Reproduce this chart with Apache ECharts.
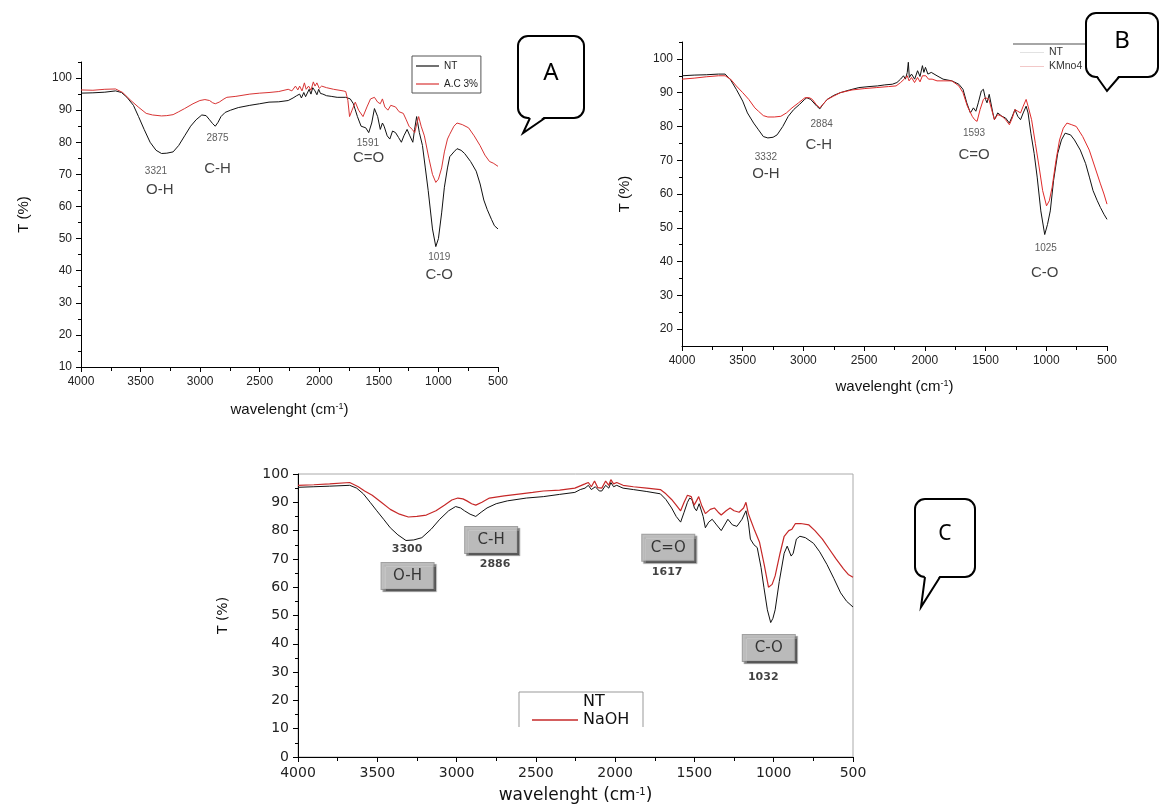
<!DOCTYPE html>
<html>
<head>
<meta charset="utf-8">
<script src="https://cdn.jsdelivr.net/npm/echarts@6/dist/echarts.min.js"></script>
<style>
  html, body { margin: 0; padding: 0; background: #fff; }
  #main { width: 1160px; height: 805px; }
</style>
</head>
<body>
<div id="main"></div>
<script>
// spectra, [wavenumber, T%]
const aNT = [[4000,95.3],[3900,95.4],[3800,95.6],[3710,96],[3660,95.5],[3614,94],[3560,91.5],[3517,88],[3470,84],[3420,80],[3370,77.5],[3324,76.5],[3280,76.6],[3227,77],[3180,79],[3130,82],[3080,85],[3034,87],[2986,88.5],[2950,88.3],[2921,87],[2895,85.8],[2873,85],[2850,86.2],[2825,88],[2790,89.3],[2744,90],[2680,90.8],[2583,91.5],[2500,92],[2422,92.5],[2340,92.6],[2261,93],[2220,93.8],[2190,94.5],[2165,95],[2150,93.8],[2130,95.5],[2115,94.2],[2100,94],[2085,96.5],[2070,95],[2055,97],[2036,96],[2020,94.8],[2005,96.5],[1990,95.2],[1970,95],[1939,94.5],[1900,94.3],[1850,94],[1778,94],[1740,93.5],[1714,92],[1680,88],[1649,85],[1610,84.5],[1585,83],[1560,86],[1537,90.5],[1510,88],[1488,84],[1470,86],[1456,85],[1430,82],[1408,81],[1385,83.5],[1360,83],[1335,81.5],[1311,80],[1290,82],[1263,84],[1240,82],[1215,80],[1200,84],[1183,88],[1160,83],[1134,79],[1110,72],[1086,65],[1050,53],[1022,47.5],[1000,50],[973,58],[950,66],[924,72],[905,75.5],[893,75],[870,77],[844,78],[810,77.5],[780,76.5],[730,74],[683,71],[650,67],[619,62],[590,59],[555,56],[530,54],[500,53]];
const aAC = [[4000,96.3],[3900,96.2],[3800,96.5],[3710,96.6],[3650,95.5],[3581,93],[3520,91],[3453,89],[3400,88.5],[3324,88.2],[3280,88.3],[3227,88.6],[3180,89.5],[3130,90.5],[3060,92],[3002,93],[2960,93.3],[2921,93],[2895,92.3],[2873,92],[2840,92.5],[2800,93.5],[2776,94],[2700,94.3],[2583,95],[2500,95.3],[2422,95.5],[2340,95.8],[2261,96.5],[2230,96],[2200,97.5],[2180,96.3],[2165,97.5],[2145,96],[2125,98.5],[2110,96.5],[2090,97.5],[2070,96.2],[2050,98.8],[2036,97.5],[2020,98.5],[2000,96.8],[1980,97.5],[1939,97],[1880,96.5],[1800,96],[1778,95.8],[1760,93],[1746,88],[1725,90],[1698,92.5],[1670,90],[1633,88],[1600,91],[1570,93.5],[1537,94],[1510,92.5],[1488,92],[1470,93.5],[1450,91],[1424,90],[1400,91.5],[1360,91],[1330,89.5],[1295,89],[1270,87],[1247,85],[1220,84],[1199,83],[1180,86],[1166,88],[1145,85],[1118,82],[1080,75],[1050,70],[1022,67.5],[1000,68.5],[973,72],[950,77],[924,81],[905,82.5],[893,83],[870,85],[844,86],[800,85.5],[747,84.5],[700,82],[651,79],[610,76],[571,74],[540,73.5],[500,72.5]];
const bNT = [[4000,95],[3900,95.2],[3800,95.3],[3700,95.5],[3645,95.5],[3600,93.8],[3553,91],[3500,87.5],[3461,84],[3410,81],[3370,79],[3330,77],[3293,76.6],[3250,76.8],[3217,77.5],[3170,80],[3125,83],[3080,85],[3033,86.5],[2990,88],[2972,88.5],[2940,88],[2926,87.5],[2890,86],[2865,85.2],[2840,86.5],[2804,88],[2750,89.2],[2696,90],[2620,90.8],[2543,91.5],[2460,91.8],[2390,92],[2330,92.3],[2268,92.5],[2230,93],[2200,94],[2176,95],[2160,94],[2145,96],[2136,99],[2128,94.5],[2110,95.5],[2084,94],[2060,96.5],[2040,94.8],[2020,98],[2008,96],[1995,97.5],[1975,95.5],[1947,96],[1900,95],[1850,94],[1778,93.5],[1720,92.5],[1686,91],[1655,87],[1625,84],[1600,85.5],[1580,84.5],[1560,87],[1535,90.5],[1518,91],[1500,88],[1488,87],[1470,89.5],[1457,89],[1440,84],[1427,82],[1400,84],[1365,83],[1335,82.5],[1304,81],[1280,83],[1258,85],[1235,83],[1212,82],[1190,84],[1166,86],[1150,84],[1127,78],[1100,72],[1075,65],[1045,55],[1013,48],[990,51],[967,55],[940,64],[906,72],[875,76],[845,78],[800,77.5],[768,76],[720,73],[676,69],[645,65],[615,61],[580,58],[554,56],[525,54],[500,52.5]];
const bKM = [[4000,94],[3900,94.3],[3800,94.7],[3700,95],[3645,95],[3600,94],[3553,92],[3500,90],[3450,88],[3400,85.5],[3370,84.5],[3330,83.2],[3293,82.8],[3240,82.8],[3186,83],[3140,84],[3094,85.5],[3040,87],[2987,88.5],[2950,88.5],[2926,88],[2895,86.5],[2865,85.5],[2840,86.5],[2804,88],[2750,89],[2696,90],[2600,90.8],[2500,91.2],[2400,91.5],[2300,91.8],[2237,92],[2200,93],[2170,94],[2145,95],[2130,93.5],[2110,94.5],[2085,93],[2060,94.5],[2040,93.2],[2020,95],[1992,95],[1970,94],[1940,94],[1900,93.5],[1850,93.5],[1778,93.5],[1720,92],[1686,90],[1650,86],[1610,83],[1590,82],[1570,81.5],[1545,85],[1518,88],[1500,88.5],[1472,88],[1450,85],[1427,82],[1400,83.5],[1365,83],[1335,82],[1304,80.5],[1280,82.5],[1258,85],[1235,84.5],[1212,84],[1190,86],[1166,88],[1150,86],[1121,82],[1090,75],[1059,68],[1030,61],[998,56.5],[975,58],[952,62],[920,70],[891,76],[860,79.5],[830,81],[790,80.5],[753,80],[700,77],[646,73],[600,68],[554,63],[525,60],[500,57]];
const cNT = [[4000,95.3],[3900,95.5],[3800,95.7],[3674,96],[3630,95],[3588,93],[3545,90],[3503,87],[3460,84],[3418,81],[3370,78.5],[3319,76.5],[3270,76.7],[3219,77.5],[3160,80.5],[3106,84],[3050,87],[3006,88.5],[2975,88],[2950,87],[2915,85.8],[2879,85],[2845,86.5],[2808,88],[2750,89.5],[2680,90.5],[2560,91.5],[2453,92],[2350,92.8],[2254,93.5],[2220,94.5],[2190,95],[2169,96],[2150,94.5],[2125,95.5],[2100,94],[2084,94],[2060,96],[2040,95],[2027,97],[2010,95.5],[1990,96],[1950,95],[1885,94.5],[1800,93.8],[1715,93],[1680,91],[1644,88],[1615,85],[1587,83],[1565,86.5],[1544,90],[1530,91.5],[1516,91],[1500,88],[1487,87],[1470,89.5],[1459,90],[1445,85],[1431,81],[1410,83],[1388,84],[1360,82],[1331,80],[1310,82],[1289,84],[1260,82],[1232,81.5],[1200,84],[1175,87],[1160,83],[1147,77],[1125,75],[1104,74],[1080,67],[1062,60],[1040,52],[1019,47.5],[1005,49],[991,52],[965,62],[934,72],[915,74.5],[905,75],[890,71],[877,72],[857,77],[835,78],[800,77.5],[749,75.5],[710,72.5],[664,68],[620,63],[578,58],[540,55],[500,53]];
const cNa = [[4000,96],[3900,96.2],[3800,96.5],[3674,97],[3620,95.5],[3580,94],[3532,92.5],[3475,90],[3418,87.5],[3360,85.8],[3304,84.8],[3250,85],[3191,85.5],[3130,87],[3077,89],[3030,90.8],[2992,91.5],[2960,91.2],[2935,90.5],[2905,89.5],[2879,89],[2840,90],[2793,91.5],[2700,92.3],[2595,93],[2520,93.5],[2453,94],[2350,94.3],[2254,95],[2220,95.8],[2190,96.5],[2169,97],[2150,95.5],[2130,97.5],[2110,95.2],[2084,95],[2060,97.5],[2040,96],[2027,98],[2010,96.5],[1990,97],[1950,96],[1885,95.5],[1800,95],[1715,94.5],[1680,93],[1644,91],[1615,89],[1587,87],[1565,90],[1544,92.5],[1520,92],[1502,89],[1487,90.5],[1473,92],[1455,89],[1431,86],[1400,87.5],[1374,88],[1350,86.5],[1331,85.5],[1300,87],[1275,88],[1250,87],[1218,86.5],[1190,88],[1175,90],[1160,86],[1147,84],[1120,80],[1090,76],[1060,68],[1033,60],[1010,61],[991,64],[960,72],[934,78],[905,80],[885,80.5],[863,82.5],[830,82.5],[778,82],[740,80],[693,77],[650,73.5],[607,70],[560,66.5],[530,64.5],[500,63.5]];

// y ticks
const yMajorA = [10,20,30,40,50,60,70,80,90,100];
const yMinorA = [15,25,35,45,55,65,75,85,95,105];
const yMajorB = [20,30,40,50,60,70,80,90,100];
const yMinorB = [25,35,45,55,65,75,85,95,105];
const yMajorC = [0,10,20,30,40,50,60,70,80,90,100];
const yMinorC = [5,15,25,35,45,55,65,75,85,95];

// peak notes: text, wavenumber, T, kind
const notesA = [['3321',3371,71,'num'],['O-H',3339,65.3,'grp'],['2875',2854,81.1,'num'],['C-H',2854,71.8,'grp'],
  ['1591',1592,79.8,'num'],['C=O',1586,75.2,'grp'],['1019',993,44.3,'num'],['C-O',993,38.8,'grp']];
const notesB = [['2884',2850,80.7,'num'],['C-H',2874,74.5,'grp'],['3332',3309,70.8,'num'],['O-H',3309,65.9,'grp'],
  ['1593',1595,78,'num'],['C=O',1595,71.5,'grp'],['1025',1004,44,'num'],['C-O',1013,36.6,'grp']];
const notesC = [['C-H',2782,76.7,'box'],['2886',2757,68.2,'bold'],['3300',3312,73.5,'bold'],['O-H',3309,64,'box'],
  ['C=O',1665,73.9,'box'],['1617',1672,65.4,'bold'],['C-O',1031,38.5,'box'],['1032',1066,28.3,'bold']];

const AR = 'Liberation Sans, Arial, sans-serif';
const DV = 'DejaVu Sans, sans-serif';

const noteStyle = {
  num:  {fontSize: 10, fontFamily: AR, color: '#333'},
  grp:  {fontSize: 15, fontFamily: AR, color: '#111'},
  bold: {fontSize: 11, fontFamily: DV, fontWeight: 'bold', color: '#111'},
  box:  {fontSize: 15, fontFamily: DV, color: '#111', backgroundColor: '#c4c4c4',
         borderColor: '#8a8a8a', borderWidth: 1, width: 52, height: 26, lineHeight: 26,
         shadowColor: 'rgba(0,0,0,0.55)', shadowOffsetX: 2, shadowOffsetY: 2, shadowBlur: 1}
};

function xAx(g, fs, font, gap, titleFs) {
  return {
    type: 'value', gridIndex: g, min: 500, max: 4000, interval: 500, inverse: true,
    axisLine: {show: true, onZero: false, lineStyle: {color: '#000', width: 1}},
    axisTick: {show: true, length: 5, lineStyle: {color: '#000'}},
    minorTick: {show: true, splitNumber: 2, length: 4, lineStyle: {color: '#000'}},
    splitLine: {show: false},
    axisLabel: {fontSize: fs, fontFamily: font, color: '#222', margin: 9, formatter: v => String(v)},
    name: '{t|wavelenght (cm}{s|-1}{t|)}', nameLocation: 'middle', nameGap: gap,
    nameTextStyle: {rich: {
      t: {fontSize: titleFs, fontFamily: font, color: '#111'},
      s: {fontSize: Math.round(titleFs * 0.6), fontFamily: font, color: '#111', verticalAlign: 'top', lineHeight: 8}
    }}
  };
}
function yAx(g, min, max, major, fs, font, gap, titleFs) {
  return {
    type: 'value', gridIndex: g, min: min, max: max, position: 'left',
    axisLine: {show: true, onZero: false, lineStyle: {color: '#000', width: 1}},
    axisTick: {show: true, length: 5, customValues: major, lineStyle: {color: '#000'}},
    axisLabel: {fontSize: fs, fontFamily: font, color: '#222', margin: 9, customValues: major},
    splitLine: {show: false},
    name: 'T (%)', nameLocation: 'middle', nameRotate: 90, nameGap: gap,
    nameTextStyle: {fontSize: titleFs, fontFamily: font, color: '#111'}
  };
}
function yMinor(g, min, max, minor) {
  return {
    type: 'value', gridIndex: g, min: min, max: max, position: 'left', offset: 0,
    axisLine: {show: false}, axisLabel: {show: false}, splitLine: {show: false},
    axisTick: {show: true, length: 3, customValues: minor, lineStyle: {color: '#000'}}
  };
}
function line(name, data, idx, color, w) {
  return {
    name: name, type: 'line', data: data, xAxisIndex: idx, yAxisIndex: idx * 2,
    symbol: 'none', silent: true, animation: false,
    lineStyle: {color: color, width: w || 1}, itemStyle: {color: color}
  };
}
function notes(list, idx) {
  return {
    type: 'scatter', xAxisIndex: idx, yAxisIndex: idx * 2, symbolSize: 0, silent: true, animation: false,
    data: list.map(n => ({
      value: [n[1], n[2]],
      label: Object.assign({show: true, position: 'inside', formatter: n[0], align: 'center', verticalAlign: 'middle'}, noteStyle[n[3]])
    })),
    z: 5
  };
}

// speech bubble: rounded box + tail (base x1..x2 on the bottom edge, tip tx,ty)
function bubble(x, y, w, h, x1, x2, tx, ty, letter, fs) {
  const b = y + h;
  return [
    {type: 'rect', shape: {x: x, y: y, width: w, height: h, r: 10}, style: {fill: '#fff', stroke: '#000', lineWidth: 2}, z: 100},
    {type: 'polygon', shape: {points: [[x1, b - 2], [tx, ty], [x2, b - 2]]}, style: {fill: '#fff', stroke: null}, z: 101},
    {type: 'polyline', shape: {points: [[x1, b], [tx, ty], [x2, b]]}, style: {stroke: '#000', lineWidth: 2, fill: null}, z: 102},
    {type: 'text', x: x + w / 2, y: y + h / 2 - 4, z: 103,
     style: {text: letter, fontSize: fs, fontFamily: 'Noto Sans, Open Sans, sans-serif', fill: '#000', align: 'center', verticalAlign: 'middle'}}
  ];
}

const chart = echarts.init(document.getElementById('main'));
chart.setOption({
  animation: false,
  backgroundColor: '#fff',
  grid: [
    {left: 81, top: 62, width: 417, height: 305},
    {left: 682, top: 42, width: 425, height: 304},
    {left: 298, top: 474, width: 555, height: 283, show: true, borderColor: '#aaa', borderWidth: 1}
  ],
  xAxis: [xAx(0, 12, AR, 35, 15), xAx(1, 12, AR, 33, 15), xAx(2, 14, DV, 30, 17)],
  yAxis: [
    yAx(0, 10, 105, yMajorA, 12, AR, 50, 15), yMinor(0, 10, 105, yMinorA),
    yAx(1, 15, 105, yMajorB, 12, AR, 50, 15), yMinor(1, 15, 105, yMinorB),
    yAx(2, 0, 100, yMajorC, 14, DV, 68, 14), yMinor(2, 0, 100, yMinorC)
  ],
  legend: [
    {orient: 'vertical', left: 412, top: 56, icon: 'rect', itemWidth: 23, itemHeight: 1.2, itemGap: 8,
     padding: [5, 3, 4, 4], borderColor: '#555', borderWidth: 1,
     textStyle: {fontSize: 10, fontFamily: AR, color: '#222'},
     data: [{name: 'NT'}, {name: 'A.C 3%'}]},
    {orient: 'vertical', left: 1015, top: 42, icon: 'rect', itemWidth: 24, itemHeight: 1, itemGap: 3,
     textStyle: {fontSize: 10.5, fontFamily: AR, color: '#333'},
     data: [{name: 'NT', itemStyle: {color: '#e2e2e2'}},
            {name: 'KMno4', itemStyle: {color: '#f2c8c8'}}]},
    {orient: 'vertical', left: 527, top: 689, icon: 'rect', itemWidth: 46, itemHeight: 1.3, itemGap: 2,
     textStyle: {fontSize: 16, fontFamily: DV, color: '#111'},
     data: [{name: 'NT', itemStyle: {opacity: 0}}, {name: 'NaOH'}]}
  ],
  series: [
    line('NT', aNT, 0, '#111'), line('A.C 3%', aAC, 0, '#d83434'),
    line('NT', bNT, 1, '#111'), line('KMno4', bKM, 1, '#e02a2a'),
    line('NT', cNT, 2, '#111'), line('NaOH', cNa, 2, '#c62828', 1.2),
    notes(notesA, 0), notes(notesB, 1), notes(notesC, 2)
  ],
  graphic: [].concat(
    bubble(518, 36, 66, 82, 530, 545, 523, 133, 'A', 24),
    bubble(1086, 13, 72, 64, 1097, 1119, 1107, 91, 'B', 24),
    bubble(915, 499, 60, 78, 925, 940, 921, 607, 'C', 21),
    [
      {type: 'line', shape: {x1: 1013, y1: 44, x2: 1086, y2: 44}, style: {stroke: '#888', lineWidth: 1.5}, z: 50},
      {type: 'polyline', shape: {points: [[519, 727], [519, 692], [643, 692], [643, 727]]}, style: {stroke: '#999', lineWidth: 1, fill: null}, z: 50}
    ]
  )
});
</script>
</body>
</html>
